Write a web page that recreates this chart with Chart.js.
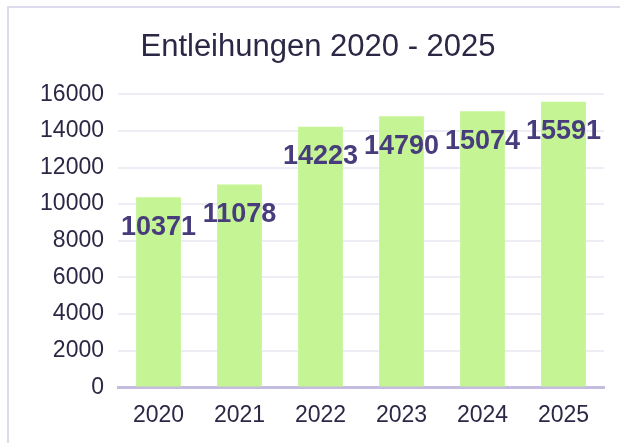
<!DOCTYPE html>
<html><head><meta charset="utf-8">
<script src="https://cdn.jsdelivr.net/npm/chart.js@4/dist/chart.umd.min.js"></script>
<style>
html,body{margin:0;padding:0;background:#fff;}
#frame{position:absolute;left:7px;top:6px;width:640px;height:460px;border:2px solid #dcdbee;box-sizing:border-box;}
#wrap{position:absolute;left:0;top:0;width:620px;height:443px;}
</style></head>
<body>
<div id="frame"></div>
<div id="wrap"><canvas id="c" width="620" height="443"></canvas></div>
<script>
const categories = ['2020','2021','2022','2023','2024','2025'];
const values = [10371, 11078, 14223, 14790, 15074, 15591];
const titleText = 'Entleihungen 2020 - 2025';
const FONT = '"Liberation Sans", Arial, sans-serif';

const labelPlugin = {
  id: 'barLabels',
  afterDatasetsDraw(chart) {
    const ctx = chart.ctx;
    const meta = chart.getDatasetMeta(0);
    ctx.save();
    ctx.font = 'bold 27px ' + FONT;
    ctx.fillStyle = '#483d7c';
    ctx.textAlign = 'center';
    ctx.textBaseline = 'middle';
    meta.data.forEach((el, i) => {
      ctx.fillText(String(values[i]), el.x, el.y + 30);
    });
    ctx.restore();
  }
};

new Chart(document.getElementById('c'), {
  type: 'bar',
  data: {
    labels: categories,
    datasets: [{
      data: values,
      backgroundColor: '#c4f494',
      barPercentage: 0.92,
      categoryPercentage: 0.6
    }]
  },
  options: {
    responsive: false,
    animation: false,
    devicePixelRatio: 1,
    layout: { padding: { left: 32, right: 16, top: 20, bottom: 0 } },
    plugins: {
      legend: { display: false },
      tooltip: { enabled: false },
      title: {
        display: true,
        text: titleText,
        color: '#2b2845',
        font: { family: FONT, size: 31, weight: 'normal' },
        padding: { top: 9, bottom: 28 }
      }
    },
    scales: {
      x: {
        grid: { display: false, drawTicks: false },
        border: { color: '#c4bddf', width: 3 },
        ticks: { color: '#2b2845', font: { family: FONT, size: 23 }, padding: 14 }
      },
      y: {
        min: 0, max: 16000,
        afterFit: (scale) => { scale.width = 86; },
        grid: { color: '#eeedf5', lineWidth: 2, drawTicks: false },
        border: { display: false },
        ticks: { stepSize: 2000, color: '#2b2845', font: { family: FONT, size: 23 }, padding: 14,
                 callback: (v) => String(v) }
      }
    }
  },
  plugins: [labelPlugin]
});
</script>
</body></html>
